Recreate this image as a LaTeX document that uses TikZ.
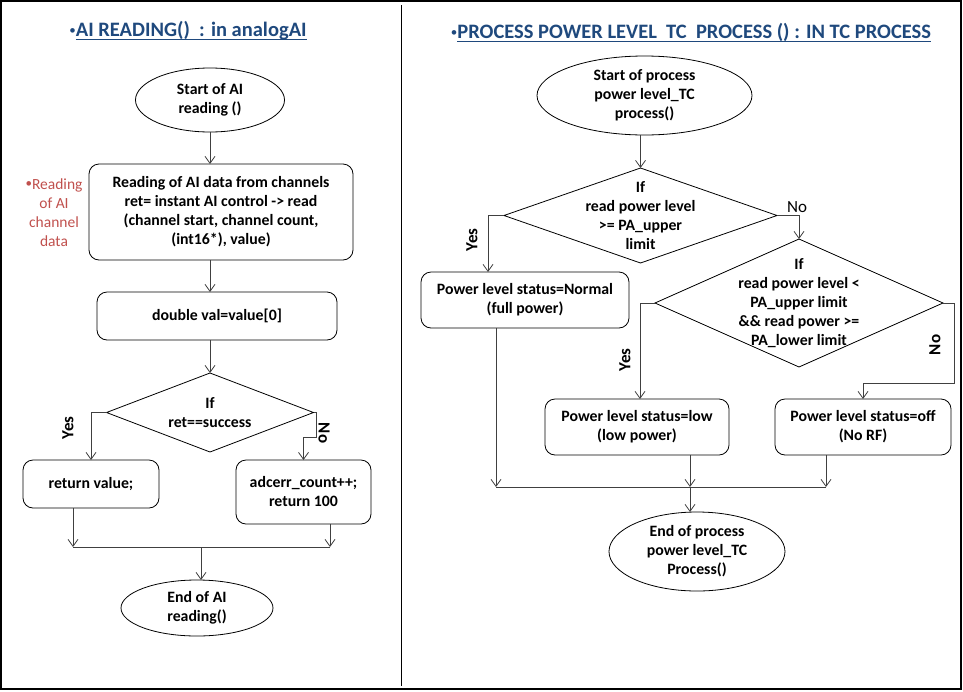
\documentclass[tikz,border=0pt]{standalone}
\usepackage{fontspec}
\setmainfont{Carlito}
\usetikzlibrary{shapes.geometric,arrows.meta}

\definecolor{ttlblue}{RGB}{31,73,125}
\definecolor{notered}{RGB}{192,80,77}
\definecolor{linegray}{RGB}{64,64,64}
\newcommand\ttlul[1]{\setbox0\hbox{#1}\rlap{\rule[-3.5pt]{\wd0}{1.3pt}}\box0}
\newcommand\smbul{\raisebox{2pt}{\fontsize{13}{13}\selectfont\mdseries•}}

\begin{document}
\begin{tikzpicture}[x=1pt,y=-1pt,
	every node/.style={font=\fontsize{15.8}{19}\selectfont\bfseries, align=center, inner sep=0pt, outer sep=0pt},
	term/.style={draw, ellipse, line width=0.8pt},
	proc/.style={draw, rounded corners=10pt, line width=0.8pt},
	dec/.style={draw, diamond, line width=0.8pt},
	title/.style={font=\fontsize{20.5}{24}\selectfont\bfseries, text=ttlblue},
	note/.style={font=\fontsize{15.5}{19}\selectfont, text=notered},
	yn/.style={font=\fontsize{17}{19}\selectfont\bfseries},
	arr/.style={draw=linegray, line width=0.8pt, -{Straight Barb[length=7pt,width=10pt]}},
	conn/.style={draw=linegray, line width=0.8pt}]
	\useasboundingbox (0,0) rectangle (963,691);
	\draw[line width=1.2pt] (1,1) rectangle (961,689);
	\draw[line width=1pt] (401,5) -- (401,686);

	% AI reading
	\node[title] (ttll) at (188,31) {\smbul\ttlul{AI READING()\ \ : in analogAI}};
	\node[note] (rdnote) at (54,212.5) {\smbul Reading\\of AI\\channel\\data};
	\node[term, minimum width=149pt, minimum height=64pt] (startl) at (210,100) {Start of AI\\reading ()};
	\node[proc, minimum width=264pt, minimum height=96pt] (rd) at (221,212) {Reading of AI data from channels\\ret= instant AI control -> read\\(channel start, channel count,\\(int16*), value)};
	\node[proc, minimum width=240pt, minimum height=48pt] (dv) at (217,316) {double val=value[0]};
	\node[dec, minimum width=207pt, minimum height=79pt] (chk) at (210,412.5) {};
	\node (chkt) at (chk) {If\\ret==success};
	\node[proc, minimum width=136pt, minimum height=48pt] (ret) at (91,484) {return value;};
	\node[proc, minimum width=135pt, minimum height=64pt] (err) at (303.5,492) {adcerr\_count++;\\return 100};
	\node[term, minimum width=152pt, minimum height=56pt] (endl) at (197,608) {End of AI\\reading()};
	\node[yn, rotate=90] (yesl) at (68,428) {Yes};
	\node[yn, rotate=-90] (nol) at (324,433) {No};
	\coordinate (ml) at (73,547);
	\coordinate (mc) at (201,547);
	\coordinate (mr) at (330,547);

	\draw[arr] (startl.south) -- (startl.south |- rd.north);
	\draw[arr] (rd.south -| startl) -- (startl |- dv.north);
	\draw[arr] (dv.south -| chk) -- (chk.north);
	\draw[arr] (chk.west) -| (ret.north);
	\draw[arr] (chk.east) -- ++(3,0) |- ([yshift=23pt]err.north) -- (err.north);
	\draw[arr] (ret.south -| ml) -- (ml);
	\draw[arr] (err.south -| mr) -- (mr);
	\draw[conn] (ml) -- (mr);
	\draw[arr] (mc) -- (mc |- endl.north);

	% power level TC process
	\node[title] (ttlr) at (691,33) {\smbul\ttlul{PROCESS POWER LEVEL\ \ TC\ \ PROCESS () : IN TC PROCESS}};
	\node[term, minimum width=215pt, minimum height=79pt] (startr) at (644.5,95.5) {Start of process\\power level\_TC\\process()};
	\node[dec, minimum width=273pt, minimum height=95pt] (up) at (640.5,215.5) {};
	\node (upt) at (up) {If\\read power level\\>= PA\_upper\\limit};
	\node[proc, minimum width=208pt, minimum height=56pt] (norm) at (525,300) {Power level status=Normal\\(full power)};
	\node[dec, minimum width=288pt, minimum height=128pt] (lowchk) at (799,303) {};
	\node (lowchkt) at (lowchk) {If\\read power level <\\PA\_upper limit\\\&\& read power >=\\PA\_lower limit};
	\node[proc, minimum width=184pt, minimum height=56pt] (low) at (637,427) {Power level status=low\\(low power)};
	\node[proc, minimum width=176pt, minimum height=56pt] (off) at (863,427) {Power level status=off\\(No RF)};
	\node[term, minimum width=176pt, minimum height=79pt] (endr) at (697,551.5) {End of process\\power level\_TC\\Process()};
	\node[yn, rotate=90] (yes1) at (472,240) {Yes};
	\node[yn, font=\fontsize{17}{19}\selectfont] (no1) at (797,207) {No};
	\node[yn, rotate=90] (yes2) at (625,360) {Yes};
	\node[yn, rotate=90] (no2) at (935,345) {No};
	\coordinate (ra) at (496,487);
	\coordinate (rb) at (690,487);
	\coordinate (rc) at (826,487);

	\draw[arr] (startr.south -| up.north) -- (up.north);
	\draw[arr] (up.west) -| ([xshift=-37pt]norm.north);
	\draw[arr] (up.east) -| (lowchk.north);
	\draw[arr] (lowchk.west) -| ([xshift=3pt]low.north);
	\draw[arr] (lowchk.east) -- ++(11,0) |- ([yshift=16pt]off.north) -- (off.north);
	\draw[arr] (norm.south -| ra) -- (ra);
	\draw[arr] (low.south -| rb) -- (rb);
	\draw[arr] (off.south -| rc) -- (rc);
	\draw[conn] (ra) -- (rc);
	\draw[arr] (rb) -- (rb |- endr.north);
\end{tikzpicture}
\end{document}
